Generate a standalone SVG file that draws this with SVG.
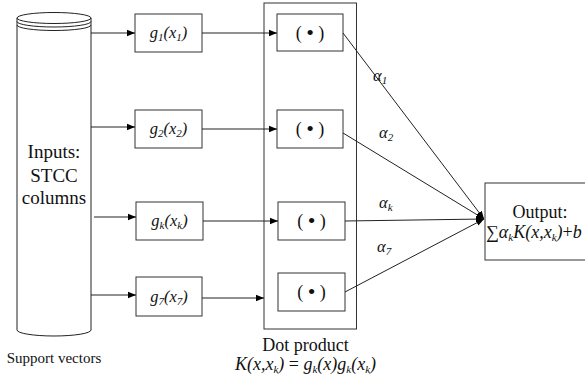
<svg xmlns="http://www.w3.org/2000/svg" width="585" height="377" viewBox="0 0 585 377">
  <style>
    .ln { fill: none; stroke: #222; stroke-width: 1; }
    .box { fill: #fff; stroke: #333; stroke-width: 1; }
    text { font-family: 'Liberation Serif', 'DejaVu Serif', serif; font-size: 18px; fill: #111; }
    .c { text-anchor: middle; }
    .i { font-style: italic; }
    .sub { font-size: 11px; }
    .big { font-size: 19px; }
    .small { font-size: 15px; }
    .lbl { font-size: 16.5px; }
    .bul { font-size: 22px; }
  </style>
  <defs>
    <marker id="arr" viewBox="0 0 10 10" refX="10" refY="5" markerWidth="8" markerHeight="8" markerUnits="userSpaceOnUse" orient="auto">
      <path d="M0,1 L10,5 L0,9 Z" fill="#000"/>
    </marker>
  </defs>

  <!-- support-vector store drawn as a cylinder -->
  <g id="inputs">
    <path class="ln" d="M17,18 L17,330 A37,6 0 0 0 91,330 L91,18" fill="#fff"/>
    <ellipse class="ln" cx="54" cy="18" rx="37" ry="5.5"/>
    <path class="ln" d="M17,21.5 A37,5.5 0 0 0 91,21.5"/>
    <path class="ln" d="M17,25 A37,5.5 0 0 0 91,25"/>
    <text class="c big" x="54" y="158">Inputs:</text>
    <text class="c big" x="54" y="182">STCC</text>
    <text class="c big" x="54" y="204">columns</text>
    <text class="c small" x="54" y="363">Support vectors</text>
  </g>

  <!-- feature maps g_i(x_i) -->
  <g id="g1">
    <rect class="box" x="135" y="14" width="67" height="38"/>
    <text class="c i lbl" x="168.5" y="38">g<tspan class="sub" dy="3">1</tspan><tspan dy="-3">(x</tspan><tspan class="sub" dy="3">1</tspan><tspan dy="-3">)</tspan></text>
  </g>
  <g id="g2">
    <rect class="box" x="135" y="110" width="67" height="38"/>
    <text class="c i lbl" x="168.5" y="134">g<tspan class="sub" dy="3">2</tspan><tspan dy="-3">(x</tspan><tspan class="sub" dy="3">2</tspan><tspan dy="-3">)</tspan></text>
  </g>
  <g id="gk">
    <rect class="box" x="136" y="202" width="67" height="38"/>
    <text class="c i lbl" x="169.5" y="226">g<tspan class="sub" dy="3">k</tspan><tspan dy="-3">(x</tspan><tspan class="sub" dy="3">k</tspan><tspan dy="-3">)</tspan></text>
  </g>
  <g id="g7">
    <rect class="box" x="136" y="277" width="66" height="39"/>
    <text class="c i lbl" x="169" y="302">g<tspan class="sub" dy="3">7</tspan><tspan dy="-3">(x</tspan><tspan class="sub" dy="3">7</tspan><tspan dy="-3">)</tspan></text>
  </g>

  <!-- dot-product stage -->
  <g id="dot-product">
    <rect class="box" x="264" y="3" width="92.5" height="326"/>
    <text class="c" x="305.5" y="351">Dot product</text>
    <text class="c i" x="305.5" y="370">K(x,x<tspan class="sub" dy="3">k</tspan><tspan dy="-3">) </tspan><tspan font-style="normal">=</tspan> g<tspan class="sub" dy="3">k</tspan><tspan dy="-3">(x)g</tspan><tspan class="sub" dy="3">k</tspan><tspan dy="-3">(x</tspan><tspan class="sub" dy="3">k</tspan><tspan dy="-3">)</tspan></text>
  </g>
  <g id="dot1">
    <rect class="box" x="277" y="14" width="66" height="37"/>
    <text class="c" x="310" y="39">( <tspan class="bul" dy="1">•</tspan><tspan dy="-1"> )</tspan></text>
  </g>
  <g id="dot2">
    <rect class="box" x="277" y="110" width="66" height="38"/>
    <text class="c" x="310" y="135">( <tspan class="bul" dy="1">•</tspan><tspan dy="-1"> )</tspan></text>
  </g>
  <g id="dotk">
    <rect class="box" x="278" y="202" width="67" height="38"/>
    <text class="c" x="311.5" y="227">( <tspan class="bul" dy="1">•</tspan><tspan dy="-1"> )</tspan></text>
  </g>
  <g id="dot7">
    <rect class="box" x="278" y="273" width="67" height="38"/>
    <text class="c" x="311.5" y="298">( <tspan class="bul" dy="1">•</tspan><tspan dy="-1"> )</tspan></text>
  </g>

  <!-- output node -->
  <g id="output">
    <rect class="box" x="485" y="183" width="110" height="77"/>
    <text class="c" x="540" y="218">Output:</text>
    <text x="486" y="238"><tspan>∑</tspan><tspan class="i">α</tspan><tspan class="i sub" dy="3">k</tspan><tspan class="i" dy="-3">K(x,x</tspan><tspan class="i sub" dy="3">k</tspan><tspan class="i" dy="-3">)</tspan>+<tspan class="i">b</tspan></text>
  </g>

  <!-- connectors -->
  <g id="connectors" class="ln" marker-end="url(#arr)">
    <line x1="91" y1="33" x2="135" y2="33"/>
    <line x1="91" y1="127" x2="135" y2="127"/>
    <line x1="94" y1="217" x2="136" y2="217"/>
    <line x1="91" y1="295" x2="136" y2="295"/>
    <line x1="202" y1="33" x2="277" y2="33"/>
    <line x1="202" y1="129" x2="277" y2="129"/>
    <line x1="203" y1="221" x2="278" y2="221"/>
    <line x1="202" y1="298" x2="264" y2="298"/>
    <line x1="343" y1="33" x2="484" y2="219"/>
    <line x1="343" y1="133" x2="484" y2="219"/>
    <line x1="345" y1="221" x2="484" y2="219"/>
    <line x1="345" y1="292" x2="484" y2="219"/>
  </g>

  <!-- edge weights -->
  <g id="weights">
    <text class="i lbl" x="373" y="81">α<tspan class="sub" dy="3">1</tspan></text>
    <text class="i lbl" x="379" y="138">α<tspan class="sub" dy="3">2</tspan></text>
    <text class="i lbl" x="379" y="208">α<tspan class="sub" dy="3">k</tspan></text>
    <text class="i lbl" x="377" y="252">α<tspan class="sub" dy="3">7</tspan></text>
  </g>
</svg>
